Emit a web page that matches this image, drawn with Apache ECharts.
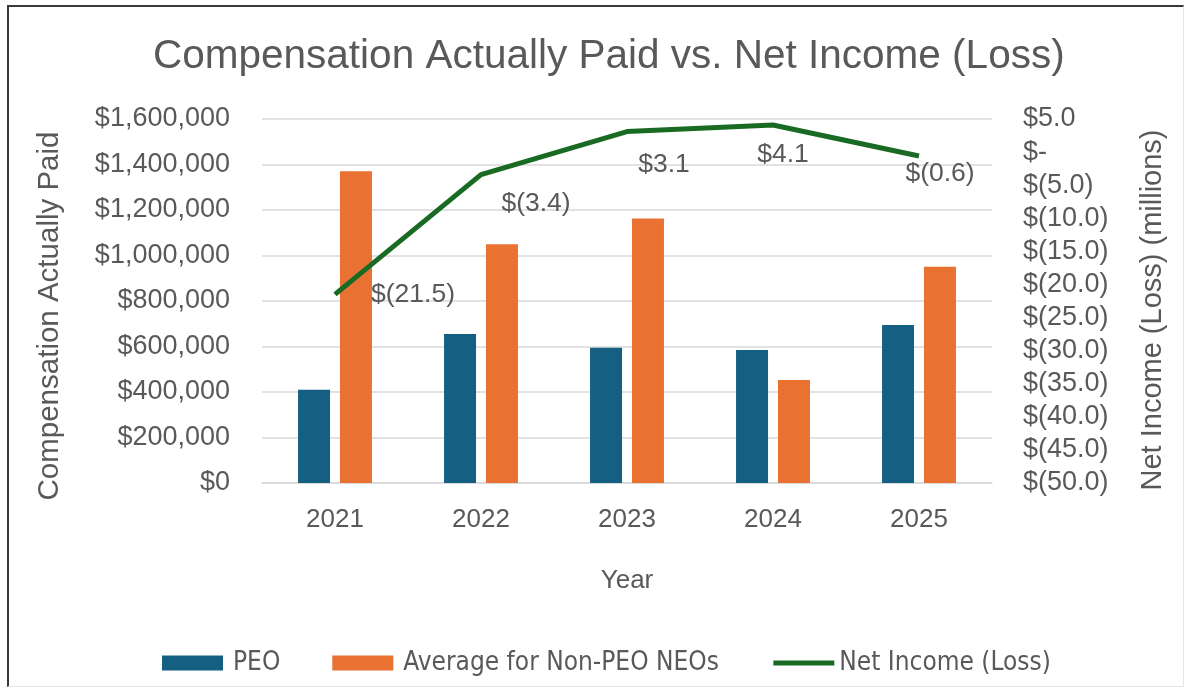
<!DOCTYPE html>
<html>
<head>
    <meta charset="utf-8">
    <title>Compensation Actually Paid vs. Net Income (Loss)</title>
    <script src="https://cdn.jsdelivr.net/npm/echarts@6/dist/echarts.min.js"></script>
    <style>
        html, body { margin: 0; padding: 0; background: #fff; }
        #frame {
            position: absolute; left: 7px; top: 5px; width: 1174px; height: 679px;
            border-left: 2px solid #3a3a3a; border-top: 2px solid #3a3a3a;
            border-right: 1px solid #e6e6e6; border-bottom: 1px solid #e6e6e6;
            pointer-events: none;
        }
    </style>
</head>
<body>
    <div id="main" style="width: 1188px;height:696px;"></div>
    <div id="frame"></div>
    <script type="text/javascript">
        // chart data
        var years = ['2021', '2022', '2023', '2024', '2025'];
        var peo = [410000, 655000, 595000, 585000, 695000];
        var nonPeoAvg = [1370000, 1050000, 1163000, 453000, 951000];
        var netIncome = [-21.5, -3.4, 3.1, 4.1, -0.6];   // millions

        var textColor = '#595959';
        var font = 'Liberation Sans, Arial, sans-serif';

        function money(v) {
            if (v === 0) return '$-';
            if (v < 0) return '$(' + (-v).toFixed(1) + ')';
            return '$' + v.toFixed(1);
        }

        // label nudges, copied from where excel put them
        var nudge = [[78, 0], [55, 29], [37, 33], [10, 30], [21, 18]];

        var myChart = echarts.init(document.getElementById('main'));

        var option = {
            animation: false,
            textStyle: { fontFamily: font, color: textColor },
            title: {
                text: 'Compensation Actually Paid vs. Net Income (Loss)',
                left: 148,
                top: 31,
                textStyle: { fontSize: 40.5, fontWeight: 'normal', color: textColor, fontFamily: font }
            },
            legend: {
                left: 157,
                top: 645,
                itemWidth: 61,
                itemHeight: 15,
                itemGap: 52,
                textStyle: { fontSize: 26, color: textColor, fontFamily: 'DejaVu Sans Condensed, DejaVu Sans, sans-serif', padding: [0, 0, 0, 5] },
                data: [
                    { name: 'PEO', icon: 'rect' },
                    { name: 'Average for Non-PEO NEOs', icon: 'rect' },
                    { name: 'Net Income (Loss)', itemWidth: 70, lineStyle: { width: 5 }, textStyle: { padding: [0, 0, 0, 0] } }
                ]
            },
            grid: { left: 262, right: 196, top: 119, bottom: 213 },
            xAxis: {
                type: 'category',
                data: years,
                name: 'Year',
                nameLocation: 'middle',
                nameGap: 85,
                nameTextStyle: { fontSize: 26, color: textColor },
                axisLine: { lineStyle: { color: '#d9d9d9', width: 1.5 } },
                axisTick: { show: false },
                axisLabel: { fontSize: 26, color: textColor, margin: 24 }
            },
            yAxis: [{
                type: 'value',
                min: 0,
                max: 1600000,
                interval: 200000,
                name: 'Compensation Actually Paid',
                nameLocation: 'middle',
                nameGap: 197,
                nameTextStyle: { fontSize: 29.5, color: textColor, padding: [0, 30, 0, 0] },
                axisLabel: {
                    fontSize: 27, color: textColor, margin: 32,
                    formatter: function (v) { return '$' + v.toLocaleString('en-US'); }
                },
                splitLine: { lineStyle: { color: '#d9d9d9', width: 1.5 } }
            }, {
                type: 'value',
                min: -50,
                max: 5,
                interval: 5,
                name: 'Net Income (Loss) (millions)',
                nameLocation: 'middle',
                nameGap: 146,
                nameRotate: 90,
                nameTextStyle: { fontSize: 29, color: textColor, padding: [0, 18, 0, 0] },
                axisLabel: { fontSize: 27, color: textColor, margin: 31, formatter: money },
                splitLine: { show: false }
            }],
            series: [{
                name: 'PEO',
                type: 'bar',
                data: peo,
                barWidth: 32,
                barGap: '31%',
                itemStyle: { color: '#156082' }
            }, {
                name: 'Average for Non-PEO NEOs',
                type: 'bar',
                data: nonPeoAvg,
                barWidth: 32,
                itemStyle: { color: '#e97132' }
            }, {
                name: 'Net Income (Loss)',
                type: 'line',
                yAxisIndex: 1,
                data: netIncome,
                symbol: 'circle',
                symbolSize: 2,
                lineStyle: { color: '#196b24', width: 5 },
                itemStyle: { color: 'rgba(25,107,36,0)' },
                labelLayout: function (p) {
                    return { dx: nudge[p.dataIndex][0], dy: nudge[p.dataIndex][1], hideOverlap: false };
                },
                label: {
                    show: true,
                    position: 'inside',
                    fontSize: 26.5,
                    color: textColor,
                    formatter: function (p) { return money(p.value); }
                }
            }]
        };

        myChart.setOption(option);
    </script>
</body>
</html>
